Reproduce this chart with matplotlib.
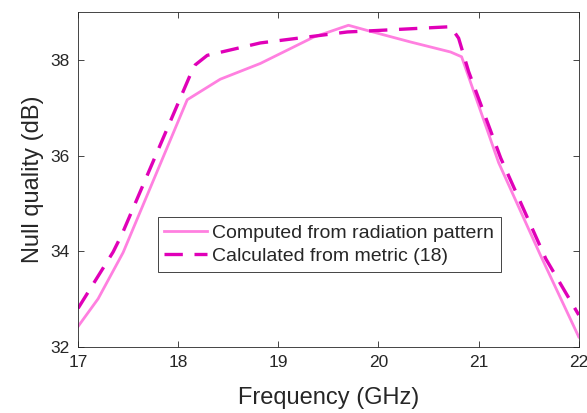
import matplotlib
matplotlib.use("Agg")
import matplotlib.pyplot as plt

# Data
freq_solid = [17.0, 17.2, 17.45, 18.09, 18.42, 18.82, 19.35, 19.7,
              19.89, 20.32, 20.72, 20.83, 21.2, 21.62, 22.0]
null_solid = [32.42, 33.0, 33.97, 37.17, 37.6, 37.93, 38.48, 38.73,
              38.62, 38.38, 38.17, 38.07, 35.85, 33.9, 32.2]

freq_dash = [17.0, 17.35, 17.44, 18.12, 18.17, 18.29, 18.82, 19.69, 19.98,
             20.72, 20.80, 20.90, 21.22, 21.67, 22.0]
null_dash = [32.8, 33.98, 34.36, 37.69, 37.9, 38.1, 38.36, 38.59, 38.62,
             38.70, 38.46, 37.76, 35.95, 33.84, 32.66]

xticks = [17, 18, 19, 20, 21, 22]
yticks = [32, 34, 36, 38]

label_solid = "Computed from radiation pattern"
label_dash = "Calculated from metric (18)"

plt.rcParams['font.family'] = ['Liberation Sans', 'DejaVu Sans']
txt = '#262626'

fig = plt.figure(figsize=(5.87, 4.13), dpi=100)
ax = fig.add_axes([0.133, 0.161, 0.853, 0.809])

ax.plot(freq_solid, null_solid, color='#ff80e0', lw=2.0, label=label_solid)
ax.plot(freq_dash, null_dash, color='#e000b8', lw=2.4, dashes=(5.5, 3.5),
        label=label_dash)

ax.set_xlim(17, 22)
ax.set_ylim(32, 39)
ax.set_xticks(xticks)
ax.set_yticks(yticks)
ax.tick_params(direction='in', top=True, right=True, labelsize=12.5,
               colors=txt, length=4, width=0.6, pad=6)
for s in ax.spines.values():
    s.set_color('#262626')
    s.set_linewidth(0.6)

ax.set_xlabel("Frequency (GHz)", fontsize=17, color=txt, labelpad=12)
ax.set_ylabel("Null quality (dB)", fontsize=17, color=txt, labelpad=5)

leg = ax.legend(loc='upper left', bbox_to_anchor=(0.159, 0.387), fontsize=14,
                frameon=True, fancybox=False, framealpha=1, edgecolor='#262626',
                borderpad=0.35, labelspacing=0.3, handlelength=2.2,
                handletextpad=0.25, borderaxespad=0)
leg.get_frame().set_linewidth(0.6)
for t in leg.get_texts():
    t.set_color(txt)

fig.savefig("out.png", dpi=100)
